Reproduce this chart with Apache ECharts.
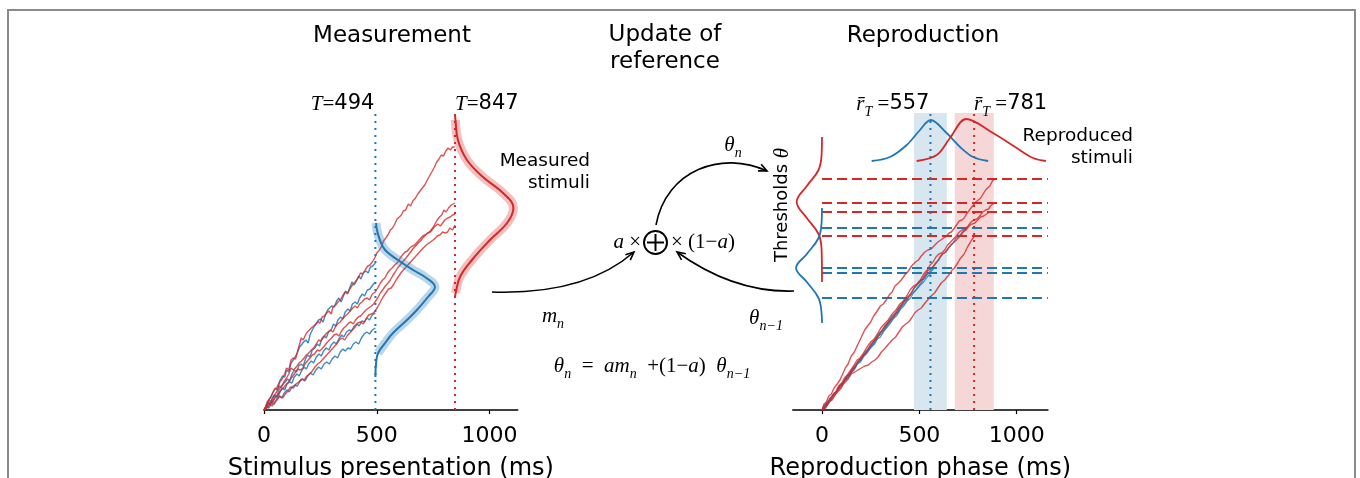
<!DOCTYPE html>
<html><head><meta charset="utf-8">
<script src="https://cdn.jsdelivr.net/npm/echarts/dist/echarts.min.js"></script>
<style>html,body{margin:0;padding:0;background:#fff}#c{width:1360px;height:478px}</style>
</head><body><div id="c"></div><script>
// ---------- DATA ----------
const leftTicks = [0, 500, 1000];
const rightTicks = [0, 500, 1000];
const measuredT = { blue: 494, red: 847 };
const reproducedMean = { blue: 557, red: 781 };
const markerTop = 297;
const blueBand = [472, 641];
const redBand = [682, 882];
const redThresholds = [231, 207, 198, 174];
const blueThresholds = [182, 142, 137, 112];
const thresholdSpan = [0, 1160];

// Measurement phase random walks [ms, accumulated units]
const measBlue1 = [[0,0],[8,3],[14,8],[22,6],[30,13],[38,12],[46,20],[56,22],[64,21],[72,30],[82,34],[92,33],[100,40],[110,38],[120,47],[130,50],[138,49],[148,57],[158,63],[166,61],[176,68],[186,70],[196,67],[204,75],[214,80],[224,84],[232,82],[242,90],[252,91],[262,88],[272,95],[282,100],[290,99],[300,104],[312,103],[322,109],[332,112],[342,108],[352,114],[362,119],[372,117],[380,122],[390,128],[400,125],[410,129],[420,134],[430,131],[440,137],[452,139],[462,137],[472,143],[482,144],[494,147]];
const measBlue2 = [[0,0],[10,2],[18,7],[28,6],[36,12],[46,15],[56,13],[66,20],[76,24],[84,22],[94,28],[104,31],[114,29],[124,36],[134,40],[144,38],[154,44],[164,46],[174,44],[184,51],[194,55],[204,53],[214,60],[226,62],[236,66],[246,64],[256,71],[266,74],[276,72],[286,78],[298,80],[308,86],[318,84],[328,90],[340,93],[350,91],[360,98],[372,101],[382,99],[392,106],[404,108],[414,106],[424,112],[436,116],[446,114],[458,120],[470,121],[482,125],[494,128]];
const measBlue3 = [[0,0],[10,4],[20,3],[30,9],[40,8],[50,14],[62,13],[72,19],[82,22],[92,20],[102,26],[114,28],[124,27],[134,33],[146,36],[156,34],[166,39],[178,43],[188,41],[198,46],[210,49],[220,47],[232,53],[244,56],[254,54],[264,59],[276,62],[288,60],[298,65],[310,68],[320,66],[332,71],[344,75],[354,73],[366,78],[378,80],[388,79],[400,84],[412,86],[422,84],[434,89],[446,88],[456,92],[468,90],[480,95],[494,97]];
const measBlue4 = [[0,0],[12,3],[22,2],[34,7],[46,6],[56,11],[68,14],[78,12],[90,17],[102,20],[112,18],[124,23],[136,25],[148,24],[160,29],[172,31],[182,29],[194,34],[206,37],[218,35],[230,40],[242,43],[254,41],[266,46],[278,48],[290,46],[302,51],[314,54],[326,52],[338,58],[350,61],[360,59],[372,62],[384,61],[396,66],[408,68],[420,66],[432,72],[444,76],[456,78],[468,76],[480,80],[494,82]];
const measRed1 = [[0,0],[12,6],[20,5],[30,13],[40,18],[50,22],[60,20],[70,28],[80,31],[92,36],[100,42],[110,40],[120,50],[130,52],[140,51],[150,60],[158,66],[165,72],[174,70],[184,75],[192,78],[200,76],[210,82],[220,84],[230,86],[239,88],[248,87],[258,93],[268,94],[278,97],[288,99],[298,96],[306,103],[318,105],[328,108],[338,110],[348,114],[360,118],[370,116],[380,121],[392,125],[404,128],[417,132],[428,137],[438,136],[448,140],[460,144],[470,145],[480,148],[491,152],[500,157],[512,160],[522,164],[530,169],[540,172],[552,176],[560,180],[570,182],[580,186],[590,191],[600,193],[609,195],[618,199],[628,200],[640,206],[650,204],[660,209],[672,212],[682,216],[692,219],[702,222],[713,225],[724,230],[734,234],[744,238],[756,243],[766,248],[776,251],[786,255],[796,254],[806,259],[816,262],[826,260],[836,263],[846,263]];
const measRed2 = [[0,0],[12,4],[22,10],[32,8],[44,14],[56,18],[66,24],[76,22],[88,28],[100,32],[110,36],[120,42],[132,40],[146,44],[156,47],[166,49],[178,52],[188,55],[198,57],[210,60],[220,62],[232,66],[242,70],[252,69],[262,72],[274,76],[284,78],[294,80],[306,78],[316,83],[326,86],[338,88],[348,91],[360,94],[370,96],[382,99],[394,102],[404,104],[414,102],[424,106],[434,108],[446,111],[458,112],[468,110],[480,116],[494,118],[504,122],[516,127],[526,130],[536,132],[548,137],[558,140],[568,142],[580,145],[594,148],[604,152],[614,155],[626,158],[636,159],[646,162],[658,164],[668,165],[680,168],[692,171],[704,174],[714,175],[726,177],[738,179],[748,182],[758,186],[768,190],[778,193],[788,195],[798,200],[808,198],[818,202],[830,205],[838,203],[847,207]];
const measRed3 = [[0,0],[10,2],[20,8],[30,6],[42,10],[52,13],[64,16],[76,20],[86,22],[96,25],[108,28],[118,31],[128,34],[140,38],[150,41],[160,40],[172,42],[182,46],[192,49],[204,52],[214,55],[224,56],[236,60],[246,59],[256,61],[268,64],[278,67],[290,70],[300,72],[310,75],[322,76],[332,74],[344,79],[354,82],[364,84],[376,87],[386,88],[396,86],[406,90],[418,93],[428,94],[440,97],[452,100],[464,102],[476,104],[486,106],[494,108],[504,112],[516,117],[526,120],[538,124],[550,127],[560,130],[570,134],[582,138],[592,142],[604,145],[614,148],[626,151],[640,155],[650,158],[660,161],[672,164],[684,167],[694,169],[704,172],[716,175],[726,177],[738,178],[748,181],[760,184],[770,186],[782,184],[792,187],[802,190],[814,192],[826,193],[836,195],[847,196]];
const measRed4 = [[0,0],[12,2],[24,6],[36,4],[48,8],[58,10],[70,14],[82,12],[94,16],[106,19],[118,23],[130,22],[142,26],[154,28],[166,31],[178,30],[190,34],[202,36],[214,39],[226,43],[238,46],[250,48],[262,51],[274,54],[286,57],[298,60],[310,63],[322,66],[334,70],[346,72],[358,70],[368,74],[380,77],[392,80],[404,83],[416,87],[428,88],[440,86],[452,91],[464,95],[476,96],[486,97],[494,98],[504,103],[516,108],[528,113],[540,117],[552,121],[564,122],[576,126],[586,130],[598,134],[610,138],[622,141],[634,144],[646,147],[658,150],[670,153],[682,156],[694,159],[706,162],[720,165],[732,167],[744,169],[756,171],[768,174],[780,175],[792,178],[804,177],[814,178],[824,182],[836,180],[847,185]];

// Measured stimuli densities (drawn sideways at T)
const measuredDensBlue = [[494,33],[497,47],[506,57],[537,67],[572,77],[634,90],[678,100],[727,113],[758,123],[714,133],[661,140],[594,150],[537,160],[514,170],[501,180],[497,187]];
const measuredDensRed = [[847,113],[850,117],[869,133],[922,150],[1002,170],[1078,187],[1106,202],[1060,217],[971,233],[900,250],[860,270],[849,290],[847,295]];

// Reproduction phase random walks
const repBlue1 = [[0,0],[12,5],[25,4],[40,12],[55,14],[70,16],[88,24],[100,25],[118,30],[135,33],[150,40],[168,42],[185,48],[200,50],[220,57],[238,60],[255,64],[270,66],[290,74],[305,76],[325,82],[340,86],[358,90],[375,95],[392,98],[410,104],[428,107],[445,113],[460,116],[478,119],[495,124],[512,128],[530,134],[548,137],[565,142],[582,147],[600,150],[618,156],[635,158],[652,163],[670,166],[688,172],[705,174],[722,178],[743,182]];
const repBlue2 = [[0,0],[15,3],[30,9],[45,11],[62,17],[78,19],[95,26],[110,28],[128,34],[145,36],[160,42],[178,46],[195,49],[212,55],[230,58],[248,64],[265,67],[282,72],[300,78],[318,80],[335,86],[352,90],[370,95],[388,98],[405,104],[422,108],[440,113],[456,116],[474,122],[490,126],[508,130],[525,131],[540,136],[558,138],[575,142]];
const repBlue3 = [[0,0],[18,6],[32,6],[50,13],[66,15],[82,21],[98,22],[115,29],[132,32],[148,37],[165,40],[182,46],[198,48],[216,54],[232,57],[250,62],[266,66],[284,71],[300,73],[318,79],[335,83],[352,87],[370,92],[386,95],[404,101],[420,104],[438,109],[455,112],[472,118],[488,121],[505,125],[522,128],[540,133],[560,137]];
const repBlue4 = [[0,0],[14,5],[28,7],[44,12],[60,16],[75,18],[92,25],[108,27],[124,33],[140,36],[156,41],[172,43],[190,50],[206,52],[222,58],[240,62],[256,66],[272,70],[290,76],[306,79],[322,84],[340,88],[356,93],[372,96],[390,101],[405,104],[420,109],[435,112]];
const repRed1 = [[0,0],[10,6],[22,8],[35,14],[48,16],[62,22],[78,26],[92,30],[106,36],[120,42],[134,46],[150,54],[166,58],[185,66],[200,72],[219,80],[234,84],[250,88],[265,94],[280,98],[300,104],[315,106],[330,110],[345,115],[360,118],[375,124],[392,127],[407,130],[425,135],[440,138],[460,144],[480,148],[495,150],[510,154],[528,158],[544,160],[560,161],[575,164],[595,168],[610,170],[625,172],[640,174],[652,177],[664,178],[680,182],[690,184],[705,189],[718,190],[730,192],[742,196],[750,198],[765,202],[775,204],[790,208],[800,210],[815,212],[825,214],[840,220],[850,222],[862,224],[875,229],[887,231]];
const repRed2 = [[0,0],[15,3],[28,8],[42,10],[55,15],[70,18],[85,24],[100,26],[115,32],[130,35],[148,40],[162,44],[180,50],[195,52],[210,56],[228,62],[250,68],[268,71],[285,76],[302,82],[320,86],[340,90],[360,96],[380,100],[400,106],[418,109],[435,114],[452,120],[470,124],[488,126],[505,130],[522,136],[540,140],[555,145],[570,148],[585,153],[600,156],[615,157],[630,160],[645,165],[660,168],[675,171],[690,174],[705,178],[720,180],[735,181],[750,184],[765,188],[780,190],[795,191],[810,194],[825,198],[840,200],[855,201],[865,204],[878,206],[888,207]];
const repRed3 = [[0,0],[16,2],[30,6],[45,10],[60,14],[78,19],[95,24],[112,28],[130,34],[148,37],[165,42],[182,48],[200,52],[218,55],[235,60],[252,66],[270,70],[290,74],[310,80],[330,85],[350,90],[368,93],[385,98],[402,104],[420,108],[438,111],[455,116],[472,122],[490,126],[508,129],[525,134],[542,139],[560,142],[575,144],[590,148],[605,153],[620,156],[635,158],[650,162],[665,166],[680,168],[695,171],[710,174],[725,178],[740,180],[755,184],[770,186],[785,187],[800,190],[815,193],[830,194],[845,196],[860,198]];
const repRed4 = [[0,0],[18,2],[35,8],[52,10],[70,16],[90,20],[110,26],[130,30],[150,36],[168,38],[185,40],[202,42],[220,44],[238,45],[255,48],[272,50],[288,53],[305,58],[325,62],[342,66],[360,70],[378,73],[395,78],[412,83],[430,86],[445,88],[460,92],[476,97],[493,100],[510,102],[525,106],[542,110],[560,114],[578,117],[595,122],[612,127],[630,130],[642,133],[655,136],[668,140],[680,142],[690,145],[700,148],[708,151],[716,153],[726,155],[735,158],[742,161],[750,164],[760,167],[768,170],[776,172],[784,174]];

// Reproduced stimuli densities (top) and threshold densities (side)
const reproDensBlue = [[255,249],[349,253],[435,265],[503,280],[558,290],[640,277],[709,263],[776,253],[853,249]];
const reproDensRed = [[486,249],[589,255],[657,272],[740,291],[878,277],[1000,262],[1084,252],[1150,249]];
const threshDensRed = [[0,273],[-2,256],[-18,240],[-78,224],[-130,208],[-78,192],[-18,176],[-2,160],[0,128]];
const threshDensBlue = [[0,202],[-2,188],[-18,172],[-78,156],[-133,142],[-78,128],[-18,112],[-2,96],[0,87]];

// ---------- CHART ----------
const BLUE = '#1f77b4', RED = '#d62728';
const chart = echarts.init(document.getElementById('c'), null, {renderer: 'canvas'});

function lineS(data, color, gi, opts) {
  opts = opts || {};
  return {
    type: 'line', xAxisIndex: gi, yAxisIndex: gi, data: data, showSymbol: false, symbol: 'none',
    smooth: opts.smooth || false, silent: true, z: opts.z || 3, clip: false,
    lineStyle: { color: color, width: opts.width || 1.5, opacity: opts.opacity == null ? 1 : opts.opacity, type: opts.type || 'solid', cap: opts.cap || 'butt' }
  };
}

const series = [];
series.push({
  type: 'line', xAxisIndex: 1, yAxisIndex: 1, data: [], z: 1, silent: true,
  markArea: { silent: true, data: [
    [{ xAxis: blueBand[0], yAxis: 0, itemStyle: { color: '#d7e6ef' } }, { xAxis: blueBand[1], yAxis: markerTop }],
    [{ xAxis: redBand[0], yAxis: 0, itemStyle: { color: '#f5d7d7' } }, { xAxis: redBand[1], yAxis: markerTop }]
  ] }
});
[measBlue1, measBlue2, measBlue3, measBlue4].forEach(d => series.push(lineS(d, BLUE, 0, {opacity: 0.85, width: 1.4})));
[measRed1, measRed2, measRed3, measRed4].forEach(d => series.push(lineS(d, RED, 0, {opacity: 0.8, width: 1.4})));
series.push(lineS([[measuredT.blue, 0], [measuredT.blue, markerTop]], BLUE, 0, {type: [2, 5], width: 2, z: 4}));
series.push(lineS([[measuredT.red, 0], [measuredT.red, markerTop]], RED, 0, {type: [2, 5], width: 2, z: 4}));
series.push(lineS(measuredDensBlue.slice(2), BLUE, 0, {smooth: 0.4, width: 9, opacity: 0.3, z: 5}));
series.push(lineS(measuredDensBlue, BLUE, 0, {smooth: 0.4, width: 2, z: 6}));
series.push(lineS(measuredDensRed.slice(1, -1), RED, 0, {smooth: 0.4, width: 9, opacity: 0.3, z: 5}));
series.push(lineS(measuredDensRed, RED, 0, {smooth: 0.4, width: 2, z: 6}));

redThresholds.forEach(y => series.push(lineS([[thresholdSpan[0], y], [thresholdSpan[1], y]], RED, 1, {type: [10, 5], width: 1.8, z: 2})));
blueThresholds.forEach(y => series.push(lineS([[thresholdSpan[0], y], [thresholdSpan[1], y]], BLUE, 1, {type: [10, 5], width: 1.8, z: 2})));
[repBlue1, repBlue2, repBlue3, repBlue4].forEach(d => series.push(lineS(d, BLUE, 1, {opacity: 0.8, width: 1.3})));
[repRed1, repRed2, repRed3, repRed4].forEach(d => series.push(lineS(d, RED, 1, {opacity: 0.8, width: 1.4})));
series.push(lineS([[reproducedMean.blue, 0], [reproducedMean.blue, markerTop]], BLUE, 1, {type: [2, 5], width: 2, z: 4}));
series.push(lineS([[reproducedMean.red, 0], [reproducedMean.red, markerTop]], RED, 1, {type: [2, 5], width: 2, z: 4}));
series.push(lineS(reproDensBlue, BLUE, 1, {smooth: 0.35, width: 1.8, z: 5}));
series.push(lineS(reproDensRed, RED, 1, {smooth: 0.35, width: 1.8, z: 5}));
series.push(lineS(threshDensRed, RED, 1, {smooth: 0.4, width: 1.8, z: 5}));
series.push(lineS(threshDensBlue, BLUE, 1, {smooth: 0.4, width: 1.8, z: 5}));

function xAx(gi, min, max, ticks, name) {
  return {
    type: 'value', gridIndex: gi, min: min, max: max, name: name, nameLocation: 'middle', nameGap: 47,
    nameTextStyle: { fontFamily: 'DejaVu Sans', fontSize: 24, color: '#000' },
    axisLine: { onZero: false, lineStyle: { color: '#000', width: 1.6 } },
    axisTick: { show: true, length: 4, customValues: ticks, lineStyle: { color: '#000', width: 1.2 } },
    axisLabel: { customValues: ticks, margin: 15, fontFamily: 'DejaVu Sans', fontSize: 22, color: '#000', formatter: v => String(v) },
    splitLine: { show: false }
  };
}
function yAx(gi) {
  return { type: 'value', gridIndex: gi, min: 0, max: 310, show: false, splitLine: { show: false } };
}

chart.setOption({
  animation: false,
  backgroundColor: '#fff',
  grid: [
    { left: 264, top: 100, width: 253.7, height: 310, containLabel: false, outerBoundsMode: 'none' },
    { left: 792.8, top: 100, width: 255.1, height: 310, containLabel: false, outerBoundsMode: 'none' }
  ],
  xAxis: [xAx(0, 0, 1125, leftTicks, 'Stimulus presentation (ms)'), xAx(1, -150, 1160, rightTicks, 'Reproduction phase (ms)')],
  yAxis: [yAx(0), yAx(1)],
  series: series
});

// ---------- ANNOTATIONS ----------
const SERIF = 'Liberation Serif';
const rich = {
  t: { fontFamily: SERIF, fontStyle: 'italic', fontSize: 21, lineHeight: 30, color: '#000' },
  u: { fontFamily: SERIF, fontSize: 21, lineHeight: 30, color: '#000' },
  s: { fontFamily: SERIF, fontStyle: 'italic', fontSize: 14, verticalAlign: 'bottom', color: '#000' },
  n: { fontFamily: 'DejaVu Sans', fontSize: 21, lineHeight: 30, color: '#000' },
  d: { fontFamily: 'DejaVu Sans', fontSize: 18, lineHeight: 30, color: '#000' }
};
function rtext(x, y, text, align, extra) {
  return Object.assign({ type: 'text', x: x, y: y, silent: true, z: 100,
    style: { text: text, rich: rich, align: align || 'center', verticalAlign: 'middle', fill: '#000' } }, extra || {});
}
function ptext(x, y, text, size, align, extra) {
  return Object.assign({ type: 'text', x: x, y: y, silent: true, z: 100,
    style: { text: text, fontFamily: 'DejaVu Sans', fontSize: size, lineHeight: Math.round(size * 1.18), align: align || 'center', verticalAlign: 'middle', fill: '#000' } }, extra || {});
}
function arrowHead(tx, ty, dx, dy) {
  const a = Math.atan2(dy, dx), L = 9, w = 0.42;
  return { type: 'polyline', silent: true, z: 100,
    shape: { points: [[tx - L * Math.cos(a - w), ty - L * Math.sin(a - w)], [tx, ty], [tx - L * Math.cos(a + w), ty - L * Math.sin(a + w)]] },
    style: { stroke: '#000', lineWidth: 1.6, fill: null } };
}

const pB = chart.convertToPixel({ gridIndex: 0 }, [measuredT.blue, markerTop]);
const pR = chart.convertToPixel({ gridIndex: 0 }, [measuredT.red, markerTop]);
const qB = chart.convertToPixel({ gridIndex: 1 }, [reproducedMean.blue, markerTop]);
const qR = chart.convertToPixel({ gridIndex: 1 }, [reproducedMean.red, markerTop]);

const g = [
  { type: 'rect', silent: true, z: 0, shape: { x: 8, y: 10, width: 1347, height: 600 }, style: { fill: null, stroke: '#8a8a8a', lineWidth: 2 } },
  ptext(392, 36, 'Measurement', 23),
  ptext(665, 49, 'Update of\nreference', 23),
  ptext(923, 36, 'Reproduction', 23),
  rtext(pB[0] - 1, 104, '{t|T}{u|=}{n|' + measuredT.blue + '}', 'right'),
  rtext(pR[0], 104, '{t|T}{u|=}{n|' + measuredT.red + '}', 'left'),
  rtext(qB[0] - 1, 104, '{t|r\u0304}{s|T}{u| =}{n|' + reproducedMean.blue + '}', 'right'),
  rtext(qR[0], 104, '{t|r\u0304}{s|T}{u| =}{n|' + reproducedMean.red + '}', 'left'),
  ptext(590, 172, 'Measured\nstimuli', 18.5, 'right'),
  ptext(1133, 147, 'Reproduced\nstimuli', 18.5, 'right'),
  rtext(782, 205, '{d|Thresholds }{t|θ}', 'center', { rotation: Math.PI / 2 }),
  { type: 'circle', silent: true, z: 100, shape: { cx: 655.5, cy: 242.5, r: 11.5 }, style: { fill: null, stroke: '#000', lineWidth: 2 } },
  { type: 'line', silent: true, z: 100, shape: { x1: 647, y1: 242.5, x2: 664, y2: 242.5 }, style: { stroke: '#000', lineWidth: 2 } },
  { type: 'line', silent: true, z: 100, shape: { x1: 655.5, y1: 234, x2: 655.5, y2: 251 }, style: { stroke: '#000', lineWidth: 2 } },
  rtext(641, 242, '{t|a}{u| ×}', 'right'),
  rtext(671, 242, '{u|× (1−}{t|a}{u|)}', 'left'),
  { type: 'bezierCurve', silent: true, z: 100, shape: { x1: 492, y1: 292, cpx1: 585, cpy1: 295, x2: 634, y2: 252 }, style: { stroke: '#000', lineWidth: 1.6, fill: null } },
  arrowHead(634, 252, 49, -43),
  { type: 'bezierCurve', silent: true, z: 100, shape: { x1: 794, y1: 291, cpx1: 734, cpy1: 293, x2: 677, y2: 252 }, style: { stroke: '#000', lineWidth: 1.6, fill: null } },
  arrowHead(677, 252, -57, -41),
  { type: 'bezierCurve', silent: true, z: 100, shape: { x1: 656, y1: 225, cpx1: 666, cpy1: 170, cpx2: 722, cpy2: 150, x2: 767, y2: 171 }, style: { stroke: '#000', lineWidth: 1.6, fill: null } },
  arrowHead(767, 171, 45, 21),
  rtext(733, 145, '{t|θ}{s|n}', 'center'),
  rtext(553, 316, '{t|m}{s|n}', 'center'),
  rtext(766, 318, '{t|θ}{s|n−1}', 'center'),
  rtext(652, 366, '{t|θ}{s|n}{u|  =  }{t|am}{s|n}{u|  +(1−}{t|a}{u|)  }{t|θ}{s|n−1}', 'center')
];
chart.setOption({ graphic: g });
</script></body></html>
